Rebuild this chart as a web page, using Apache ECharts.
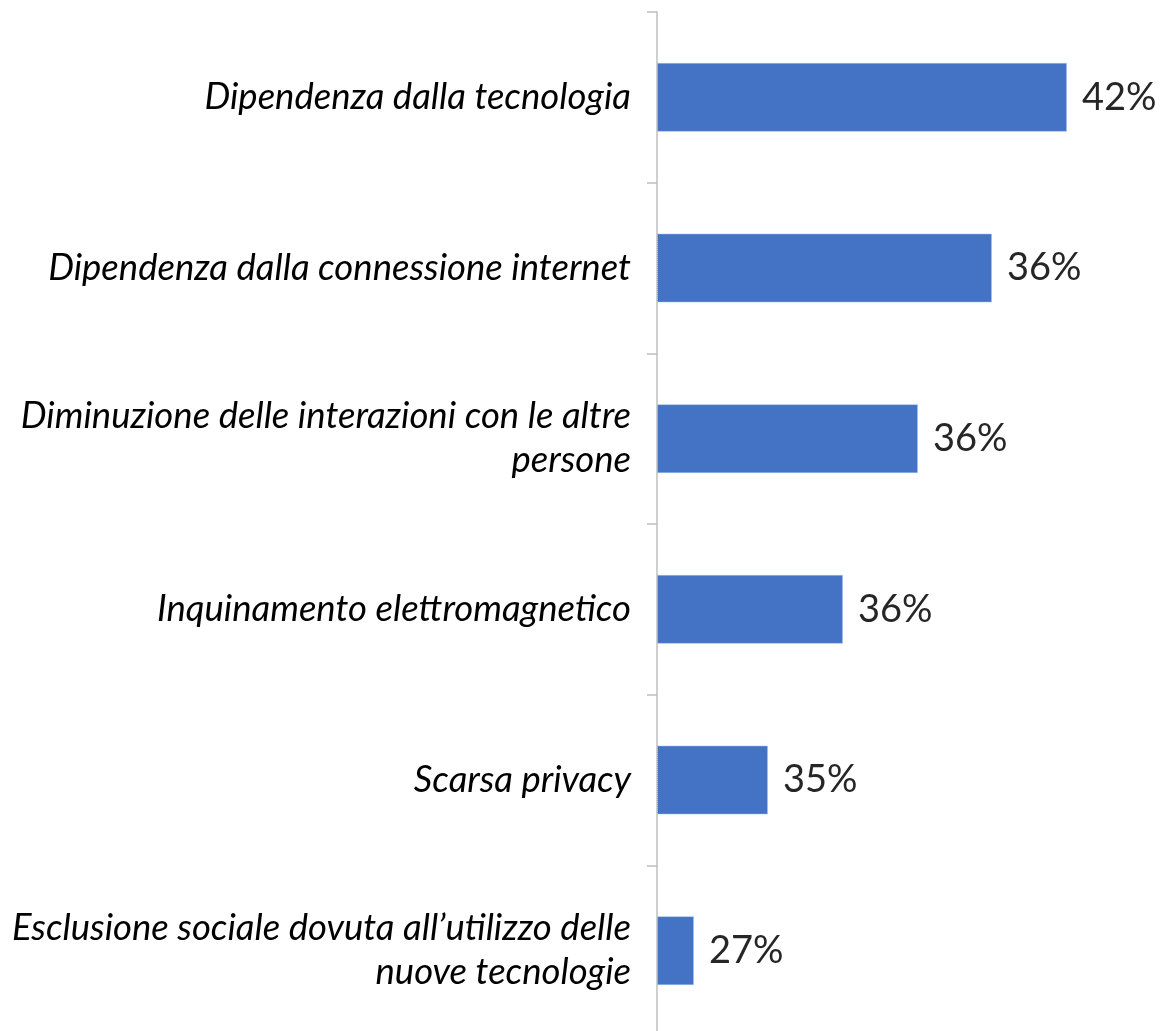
<!DOCTYPE html>
<html>
<head>
<meta charset="utf-8">
<script src="https://cdn.jsdelivr.net/npm/echarts@6/dist/echarts.min.js"></script>
<style>
html,body{margin:0;padding:0;background:#fff;}
#chart{width:1161px;height:1031px;}
</style>
</head>
<body>
<div id="chart"></div>
<script>
// Categories (top to bottom)
const categories = [
  "Dipendenza dalla tecnologia",
  "Dipendenza dalla connessione internet",
  "Diminuzione delle interazioni con le altre\npersone",
  "Inquinamento elettromagnetico",
  "Scarsa privacy",
  "Esclusione sociale dovuta all\u2019utilizzo delle\nnuove tecnologie"
];
// Percent values printed on the bars
const percentLabels = [42, 36, 36, 36, 35, 27];
// Bar lengths as drawn in the picture (arbitrary units)
const barLengths = [41.0, 33.5, 26.1, 18.6, 11.1, 3.7];

const chart = echarts.init(document.getElementById('chart'));
chart.setOption({
  animation: false,
  grid: { left: 657, top: 12, width: 500, height: 1024, containLabel: false, outerBoundsMode: 'none' },
  xAxis: {
    type: 'value', min: 0, max: 50, show: false
  },
  yAxis: {
    type: 'category',
    data: categories,
    inverse: true,
    axisLine: { show: true, lineStyle: { color: '#bfbfbf', width: 1.5 } },
    axisTick: { show: true, length: 10, lineStyle: { color: '#bfbfbf', width: 1.5 } },
    axisLabel: {
      margin: 26,
      color: '#000',
      fontFamily: 'Lato',
      fontStyle: 'italic',
      fontSize: 36.5,
      lineHeight: 44,
      align: 'right'
    }
  },
  series: [{
    type: 'bar',
    data: barLengths,
    barWidth: 69,
    itemStyle: {
      color: '#4472C4',
      borderColor: '#9DC3E6',
      borderWidth: 1,
      borderType: 'dotted'
    },
    label: {
      show: true,
      position: 'right',
      distance: 15,
      color: '#262626',
      fontFamily: 'Lato',
      fontSize: 38,
      formatter: p => percentLabels[p.dataIndex] + '%'
    }
  }]
});
</script>
</body>
</html>
